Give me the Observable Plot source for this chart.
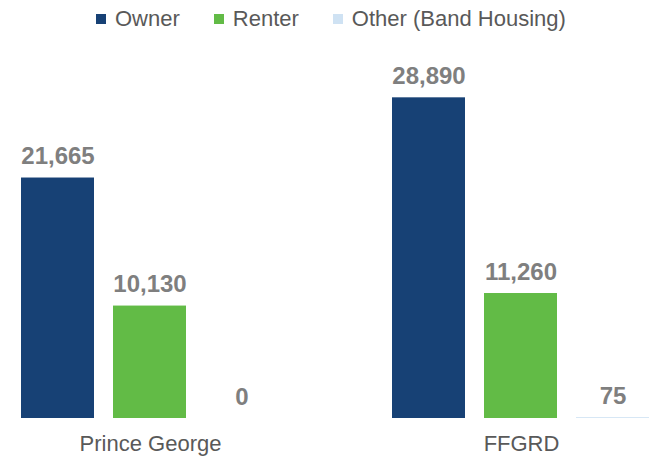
<!DOCTYPE html>
<html>
<head>
<meta charset="utf-8">
<script src="https://cdn.jsdelivr.net/npm/d3@7"></script>
<script src="https://cdn.jsdelivr.net/npm/@observablehq/plot@0.6"></script>
<style>
  html, body { margin: 0; padding: 0; background: #fff; }
  #legend { display: flex; align-items: center; height: 38px; padding-left: 96px;
            font: 22px "Liberation Sans", Arial, sans-serif; color: #595959; box-sizing: border-box; }
  #legend .item { display: flex; align-items: center; margin-right: 34px; white-space: nowrap; }
  #legend .sw { width: 10px; height: 10px; margin-right: 9px; display: inline-block; }
</style>
</head>
<body>
<div id="legend"></div>
<div id="chart"></div>
<script>
const groups = ["Prince George", "FFGRD"];
const series = ["Owner", "Renter", "Other (Band Housing)"];
const owner = [21665, 28890];
const renter = [10130, 11260];
const other = [0, 75];
const colors = ["#174175", "#62BB46", "#CFE2F3"];

const valuesBySeries = [owner, renter, other];
const data = [];
groups.forEach((g, gi) => {
  series.forEach((s, si) => {
    data.push({group: g, series: s, value: valuesBySeries[si][gi]});
  });
});

// Legend
const legend = document.getElementById("legend");
series.forEach((s, i) => {
  const item = document.createElement("span");
  item.className = "item";
  const sw = document.createElement("span");
  sw.className = "sw";
  sw.style.background = colors[i];
  item.appendChild(sw);
  item.appendChild(document.createTextNode(s));
  legend.appendChild(item);
});

const fmt = d3.format(",");

const chart = Plot.plot({
  width: 652,
  height: 419,
  marginTop: 47,
  marginBottom: 39,
  marginLeft: 20,
  marginRight: 1,
  style: {fontFamily: "'Liberation Sans', Arial, sans-serif", color: "#595959", background: "#fff"},
  fx: {domain: groups, paddingInner: 0.2992, paddingOuter: 0, label: null},
  x: {domain: series, paddingInner: 0.2043, paddingOuter: 0, axis: null},
  y: {domain: [0, 30000], axis: null},
  color: {domain: series, range: colors},
  marks: [
    Plot.barY(data, {fx: "group", x: "series", y: "value", fill: "series"}),
    Plot.text(data, {
      fx: "group", x: "series", y: "value", text: d => fmt(d.value),
      lineAnchor: "bottom", dy: -14, fontSize: 24, fontWeight: "bold", fill: "#7F7F7F"
    }),
    Plot.axisFx({anchor: "bottom", tickSize: 0, tickPadding: 17, fontSize: 22, label: null, color: "#595959"})
  ]
});
document.getElementById("chart").appendChild(chart);
</script>
</body>
</html>
